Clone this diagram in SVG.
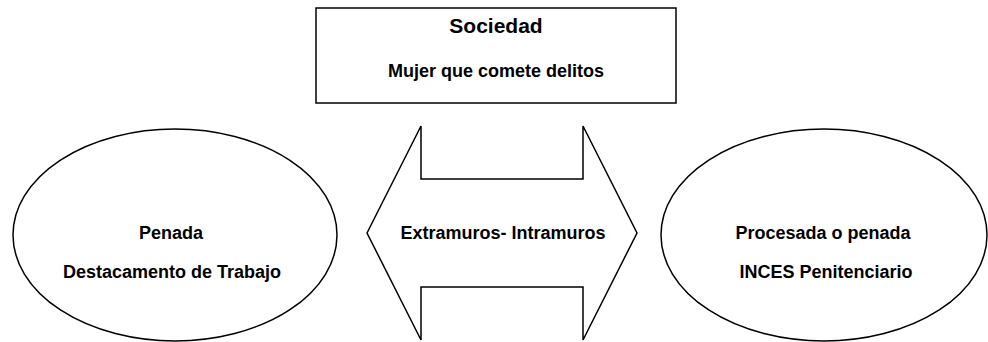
<svg xmlns="http://www.w3.org/2000/svg" width="988" height="342" viewBox="0 0 988 342">
<style>
.shape{fill:#fff;stroke:#000;stroke-width:1.5}
text{font-family:"Liberation Sans","DejaVu Sans",sans-serif;font-weight:bold;fill:#000;text-anchor:middle}
.big{font-size:21px}
.t{font-size:18px}
</style>
<rect width="988" height="342" fill="#fff"/>
<g id="sociedad">
<rect class="shape" x="316" y="8" width="360" height="95"/>
<text class="big" x="496" y="33">Sociedad</text>
<text class="t" x="496" y="77">Mujer que comete delitos</text>
</g>
<g id="connectors">
<g id="extramuros">
<polygon class="shape" points="367,233 421,126 421,179 583,179 583,126 637,233 583,340 583,287 421,287 421,340"/>
<text class="t" x="503" y="239">Extramuros- Intramuros</text>
</g>
</g>
<g id="penada">
<ellipse class="shape" cx="175" cy="235" rx="162" ry="106"/>
<text class="t" x="171" y="239">Penada</text>
<text class="t" x="172" y="278">Destacamento de Trabajo</text>
</g>
<g id="procesada">
<ellipse class="shape" cx="824" cy="235" rx="163" ry="106"/>
<text class="t" x="823" y="239">Procesada o penada</text>
<text class="t" x="826" y="278">INCES Penitenciario</text>
</g>
</svg>
